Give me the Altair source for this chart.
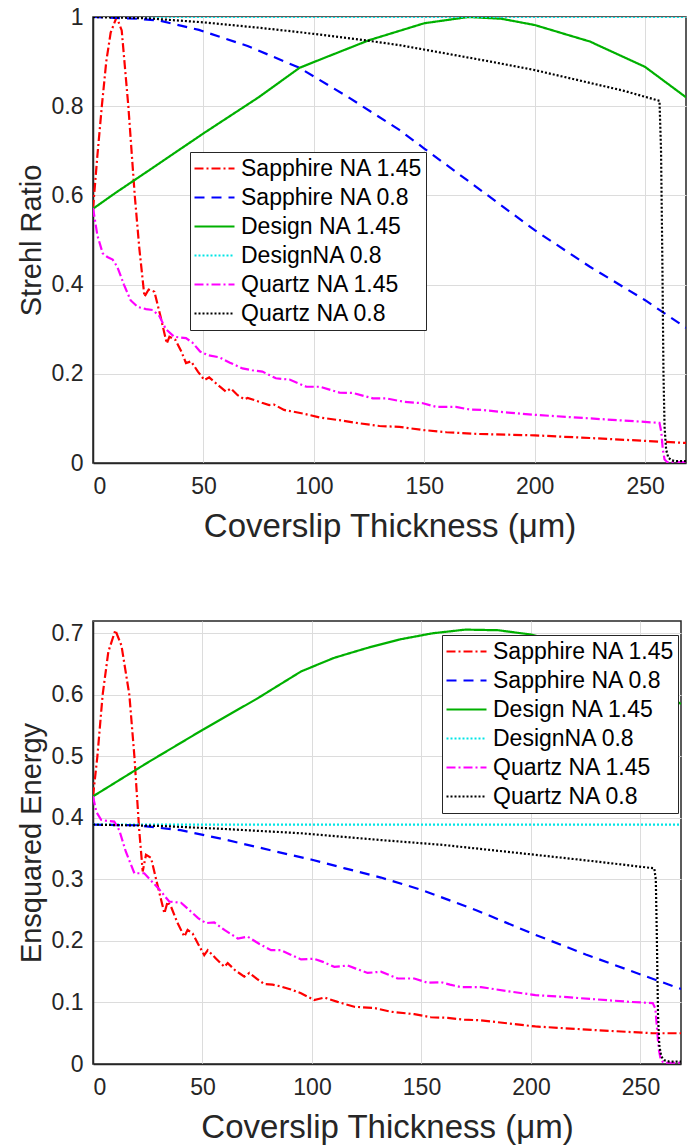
import altair as alt
import pandas as pd

SERIES = ["Sapphire NA 1.45", "Sapphire NA 0.8", "Design NA 1.45",
          "DesignNA 0.8", "Quartz NA 1.45", "Quartz NA 0.8"]
COLORS = ["#ff0000", "#0000ff", "#00b000", "#00e5e5", "#ff00ff", "#000000"]
DASHES = [[9, 3, 2, 3], [10, 7], [1, 0], [2, 2], [9, 3, 2, 3], [2, 2]]

X_TICKS = [0, 50, 100, 150, 200, 250]
X_MAX = 268.5
STREHL_TICKS = [0, 0.2, 0.4, 0.6, 0.8, 1]
EE_TICKS = [0, 0.1, 0.2, 0.3, 0.4, 0.5, 0.6, 0.7]

# ---------------- Strehl ratio (top) ----------------
s_sapph145_x = [0, 2, 4, 6, 8, 10.7, 13, 16, 18.9, 21, 23.3, 25.2, 27.8, 30.5, 33.4, 34.6, 37.3, 40,
                42.1, 44.4, 47.5, 50.4, 52.6, 56.5, 60.2, 62.4, 65.5, 68.5, 70, 73.7, 76.5, 79.8, 82,
                86.5, 95, 102.7, 111.6, 120.6, 129.7, 138.7, 149.4, 160, 175, 200, 225, 256, 268.5]
s_sapph145_y = [0.57, 0.69, 0.80, 0.9, 0.965, 1.0, 0.97, 0.8, 0.6, 0.48, 0.373, 0.389, 0.384, 0.33,
                0.268, 0.283, 0.276, 0.25, 0.224, 0.228, 0.205, 0.186, 0.192, 0.175, 0.16, 0.167,
                0.152, 0.143, 0.146, 0.14, 0.135, 0.13, 0.131, 0.119, 0.111, 0.102, 0.096, 0.089,
                0.083, 0.081, 0.074, 0.069, 0.065, 0.062, 0.056, 0.048, 0.045]

s_sapph08_x = [0, 20, 30, 48, 70, 93.5, 115, 138.7, 150, 170, 200, 225, 250, 268.5]
s_sapph08_y = [1.0, 0.996, 0.992, 0.971, 0.935, 0.886, 0.822, 0.747, 0.705, 0.632, 0.522, 0.44,
               0.365, 0.303]

s_design145_x = [0, 10, 25, 50, 75, 93.5, 100, 125, 150, 170, 185, 200, 225, 250, 268.5]
s_design145_y = [0.57, 0.605, 0.655, 0.739, 0.82, 0.886, 0.899, 0.948, 0.986, 1.0, 0.996, 0.982,
                 0.945, 0.888, 0.82]

s_design08_x = [0, 268.5]
s_design08_y = [1.0, 1.0]

s_quartz145_x = [0, 2, 4.4, 6.5, 8.9, 11, 14, 17, 20.2, 24, 27, 30, 33, 36.8, 42.1, 45, 48.5,
                 51.9, 57.2, 62, 67.7, 72, 76.7, 82.8, 89, 96.6, 102.7, 111.6, 117.6, 126.7, 132.7,
                 141, 149.4, 155.3, 164.3, 170.4, 176, 188, 200, 225, 256.5, 257.3, 258, 258.8,
                 260, 268.5]
s_quartz145_y = [0.572, 0.51, 0.47, 0.462, 0.456, 0.44, 0.40, 0.365, 0.35, 0.345, 0.343, 0.33,
                 0.30, 0.283, 0.28, 0.27, 0.25, 0.242, 0.237, 0.225, 0.212, 0.208, 0.205, 0.19,
                 0.187, 0.171, 0.171, 0.158, 0.157, 0.145, 0.145, 0.137, 0.134, 0.126, 0.126, 0.12,
                 0.119, 0.113, 0.108, 0.1, 0.09, 0.07, 0.03, 0.008, 0.002, 0.002]

s_quartz08_x = [0, 25, 50, 75, 93.5, 120, 138.7, 160, 180, 200, 220, 240, 256.5, 257.2, 257.8,
                258.3, 258.8, 259.5, 260.5, 262, 264, 268.5]
s_quartz08_y = [1.0, 0.997, 0.988, 0.976, 0.966, 0.95, 0.937, 0.918, 0.90, 0.881, 0.858, 0.835,
                0.812, 0.7, 0.45, 0.2, 0.08, 0.03, 0.012, 0.006, 0.004, 0.004]

# ---------------- Ensquared energy (bottom) ----------------
e_sapph145_x = [0, 2, 4.4, 7, 10.2, 13, 16.6, 18.9, 21.1, 22.7, 24.2, 26.5, 29.5, 32.6, 34.1,
                35.6, 38.5, 41.7, 43.2, 45.5, 48, 50.8, 52.4, 56, 60, 61.5, 65, 69.1, 71.4, 75,
                78.2, 82, 85.8, 90.4, 95, 101, 105.6, 111.7, 119.3, 128.5, 136, 146.7, 154.3, 162,
                169.5, 177.2, 202, 230, 255.5, 268.5]
e_sapph145_y = [0.435, 0.5, 0.6, 0.67, 0.705, 0.68, 0.6, 0.5, 0.38, 0.313, 0.34, 0.335, 0.29,
                0.245, 0.264, 0.256, 0.23, 0.207, 0.218, 0.212, 0.195, 0.177, 0.185, 0.172, 0.158,
                0.164, 0.152, 0.142, 0.148, 0.138, 0.130, 0.129, 0.126, 0.121, 0.115, 0.104, 0.108,
                0.101, 0.093, 0.091, 0.085, 0.081, 0.076, 0.075, 0.072, 0.071, 0.061, 0.055, 0.05,
                0.05]

e_sapph08_x = [0, 20, 40, 60, 90, 100, 115, 131.5, 150, 175, 202, 225, 252.8, 268.5]
e_sapph08_y = [0.389, 0.388, 0.38, 0.365, 0.34, 0.332, 0.318, 0.303, 0.283, 0.25, 0.21, 0.178,
               0.142, 0.122]

e_design145_x = [0, 25, 50, 75, 95, 110, 125, 140, 155, 170, 185, 200, 215, 230, 245, 260, 268.5]
e_design145_y = [0.435, 0.49, 0.543, 0.594, 0.638, 0.66, 0.676, 0.69, 0.70, 0.706, 0.705, 0.698,
                 0.685, 0.665, 0.64, 0.606, 0.585]

e_design08_x = [0, 268.5]
e_design08_y = [0.389, 0.389]

e_quartz145_x = [0, 1.5, 3.7, 6.5, 9.7, 12, 15, 18.9, 23.4, 26, 30, 34.8, 40.2, 44, 48, 51.6,
                 55.4, 60, 66.1, 70.6, 76, 81.3, 85.8, 90, 95, 101, 105, 110.2, 116.3, 120, 125.4,
                 131.5, 135, 139.1, 146.7, 152.8, 158.9, 163, 168, 177.2, 190, 202, 215, 230, 245,
                 255.6, 256.8, 257.5, 258.3, 259.2, 260.5, 268.5]
e_quartz145_y = [0.435, 0.41, 0.397, 0.395, 0.394, 0.38, 0.345, 0.31, 0.31, 0.3, 0.285, 0.264,
                 0.262, 0.25, 0.237, 0.229, 0.23, 0.218, 0.204, 0.207, 0.195, 0.185, 0.185, 0.178,
                 0.17, 0.171, 0.166, 0.158, 0.16, 0.155, 0.148, 0.15, 0.145, 0.139, 0.139, 0.132,
                 0.133, 0.129, 0.125, 0.125, 0.118, 0.112, 0.109, 0.105, 0.101, 0.099, 0.09, 0.06,
                 0.025, 0.008, 0.002, 0.002]

e_quartz08_x = [0, 30, 60, 95, 131.5, 160, 202, 230, 256.3, 257, 257.5, 258, 258.6, 259.5, 261,
                263, 268.5]
e_quartz08_y = [0.389, 0.387, 0.382, 0.375, 0.364, 0.356, 0.34, 0.329, 0.318, 0.3, 0.2, 0.08,
                0.03, 0.012, 0.006, 0.004, 0.004]


def build(pairs):
    rows = []
    for name, (xs, ys) in zip(SERIES, pairs):
        for i, (xv, yv) in enumerate(zip(xs, ys)):
            rows.append({"series": name, "x": xv, "y": yv, "i": i})
    return pd.DataFrame(rows)


top_df = build([(s_sapph145_x, s_sapph145_y), (s_sapph08_x, s_sapph08_y),
                (s_design145_x, s_design145_y), (s_design08_x, s_design08_y),
                (s_quartz145_x, s_quartz145_y), (s_quartz08_x, s_quartz08_y)])
bot_df = build([(e_sapph145_x, e_sapph145_y), (e_sapph08_x, e_sapph08_y),
                (e_design145_x, e_design145_y), (e_design08_x, e_design08_y),
                (e_quartz145_x, e_quartz145_y), (e_quartz08_x, e_quartz08_y)])

FONT = "Liberation Sans"


def panel(df, ytitle, yticks, ydom, w, h, lx, ly):
    leg = alt.Legend(title=None, orient="none", legendX=lx, legendY=ly,
                     symbolType="stroke", symbolSize=1600, symbolStrokeWidth=2.2,
                     labelFont=FONT, labelFontSize=23, labelColor="#000000",
                     labelLimit=400, labelOffset=5, clipHeight=27, rowPadding=2, padding=3,
                     fillColor="white", strokeColor="#262626")
    return alt.Chart(df).mark_line(strokeWidth=2.2, clip=True).encode(
        x=alt.X("x:Q", scale=alt.Scale(domain=[0, X_MAX], nice=False, zero=False),
                axis=alt.Axis(values=X_TICKS, title="Coverslip Thickness (μm)")),
        y=alt.Y("y:Q", scale=alt.Scale(domain=ydom, nice=False),
                axis=alt.Axis(values=yticks, format="~g", title=ytitle)),
        color=alt.Color("series:N", scale=alt.Scale(domain=SERIES, range=COLORS), legend=leg),
        strokeDash=alt.StrokeDash("series:N", scale=alt.Scale(domain=SERIES, range=DASHES),
                                  legend=leg),
        order=alt.Order("i:Q"),
    ).properties(width=w, height=h)


top = panel(top_df, "Strehl Ratio", STREHL_TICKS, [0, 1], 593, 446, 97, 135)
bot = panel(bot_df, "Ensquared Energy", EE_TICKS, [0, 0.72], 588, 443, 349, 14)

chart = alt.vconcat(top, bot, spacing=76).resolve_scale(
    color="independent", strokeDash="independent"
).properties(
    padding={"left": 16, "top": 5, "right": 0, "bottom": 0},
    background="white",
).configure_axis(
    labelFont=FONT, titleFont=FONT, labelFontSize=23, titleFontSize=33,
    titleFontWeight="normal", labelColor="#262626", titleColor="#262626",
    domainColor="#262626", domainWidth=1.5, gridColor="#dcdcdc", gridWidth=1,
    ticks=False,
).configure_axisX(
    labelPadding=12, titlePadding=12,
).configure_axisY(
    labelPadding=10, titlePadding=5, titleFontSize=29,
).configure_view(
    stroke="#262626", strokeWidth=1.5,
)

chart.save("out.html", embed_options={"renderer": "svg", "actions": False})
